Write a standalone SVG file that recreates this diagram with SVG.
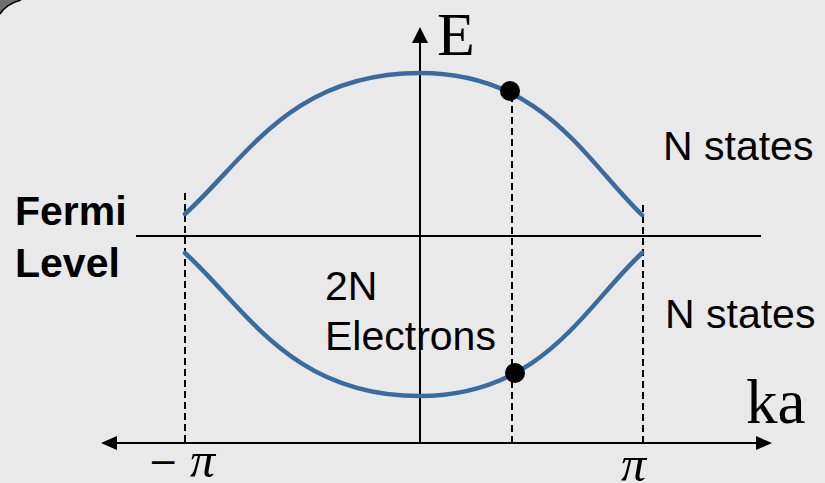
<svg xmlns="http://www.w3.org/2000/svg" width="825" height="483" viewBox="0 0 825 483">
<style>
.band{fill:none;stroke:#3a6b9f;stroke-width:4.5;stroke-linecap:round}
.dash{stroke:#000;stroke-width:2;stroke-dasharray:7,4;fill:none}
.axis{stroke:#000;stroke-width:2;fill:none}
.lbl{font-family:"Liberation Sans",Arial,sans-serif;font-size:41px;fill:#000}
.bold{font-weight:bold}
.math{font-family:"Liberation Serif","Times New Roman",serif;fill:#000}
.dot{fill:#000}
</style>
<rect x="0" y="0" width="825" height="483" fill="#e9e9e9"/>
<path d="M0,0 L21,0 Q6,4 0,14 Z" fill="#707070"/>
<path d="M21,0 Q6,4 0,14" fill="none" stroke="#000" stroke-width="1.5"/>

<g id="connectors">
  <line class="axis" x1="115" y1="443" x2="759" y2="443"/>
  <polygon points="101,443 117,436 117,450" fill="#000"/>
  <polygon points="772,443 756,436 756,450" fill="#000"/>
  <line class="axis" x1="420" y1="443" x2="420" y2="41"/>
  <polygon points="420,27 412,43 428,43" fill="#000"/>
  <line class="axis" x1="136" y1="236" x2="761" y2="236"/>
  <line class="dash" x1="185" y1="193" x2="185" y2="443"/>
  <line class="dash" x1="643" y1="205" x2="643" y2="443"/>
  <line class="dash" x1="512" y1="95" x2="512" y2="443"/>
</g>

<g id="upper-band">
  <path class="band" d="M185,214 C245,160 290,73 420,73 C543,73 585,160 642,215"/>
  <circle class="dot" cx="510" cy="91" r="10"/>
</g>

<g id="lower-band">
  <path class="band" d="M185,253 C245,307 290,396 420,396 C543,396 585,306 642,253"/>
  <circle class="dot" cx="515" cy="373" r="10"/>
</g>

<g id="labels">
  <text class="math" x="437" y="55" font-size="62">E</text>
  <text class="math" x="746" y="423" font-size="63">ka</text>
  <text x="148" y="474" font-family="DejaVu Serif, serif" font-size="36">−</text>
  <text class="math" x="190" y="477" font-size="50" font-style="italic">π</text>
  <text class="math" x="621" y="481" font-size="50" font-style="italic">π</text>
  <text class="lbl bold" x="15" y="225">Fermi</text>
  <text class="lbl bold" x="15" y="277">Level</text>
  <text class="lbl" x="325" y="300">2N</text>
  <text class="lbl" x="325" y="350">Electrons</text>
  <text class="lbl" x="663" y="160">N states</text>
  <text class="lbl" x="665" y="328">N states</text>
</g>
</svg>
